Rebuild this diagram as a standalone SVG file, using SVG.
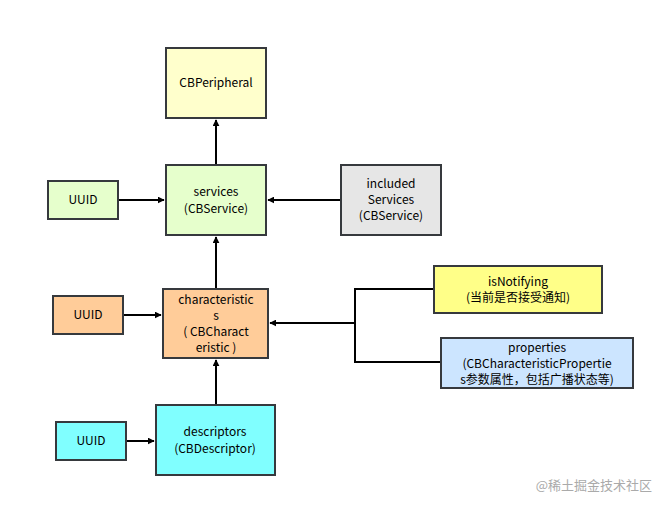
<svg xmlns="http://www.w3.org/2000/svg" width="666" height="509" viewBox="0 0 666 509">
<style>
.n{stroke:#36393d;stroke-width:2}
text{font-family:"Microsoft YaHei","Noto Sans CJK SC","Liberation Sans",sans-serif;font-size:12px;fill:#000;text-anchor:middle}
.c{fill:none;stroke:#000;stroke-width:2}
</style>
<defs><marker id="a" viewBox="0 0 10 10" refX="9" refY="5" markerWidth="7" markerHeight="7" markerUnits="userSpaceOnUse" orient="auto"><path d="M0,0L10,5L0,10z" fill="#000"/></marker></defs>
<rect width="666" height="509" fill="#fff"/>
<g id="connectors">
<path class="c" marker-end="url(#a)" d="M216,165V120"/>
<path class="c" marker-end="url(#a)" d="M216,289V237"/>
<path class="c" marker-end="url(#a)" d="M216,405V360"/>
<path class="c" marker-end="url(#a)" d="M118,200H164"/>
<path class="c" marker-end="url(#a)" d="M341,200H268"/>
<path class="c" marker-end="url(#a)" d="M123,315H161"/>
<path class="c" marker-end="url(#a)" d="M355,323H270"/>
<path class="c" d="M434,289H355V362H441"/>
<path class="c" marker-end="url(#a)" d="M126,441H154"/>
</g>
<g id="peripheral"><rect class="n" x="166" y="48" width="100" height="70" fill="#ffffcc"/><text x="216" y="87">CBPeripheral</text></g>
<g id="services"><rect class="n" x="166" y="165" width="100" height="70" fill="#e6ffcc"/><text x="216" y="196">services</text><text x="216" y="213">(CBService)</text></g>
<g id="included"><rect class="n" x="341" y="165" width="100" height="70" fill="#e6e6e6"/><text x="391" y="188">included</text><text x="391" y="204">Services</text><text x="391" y="220">(CBService)</text></g>
<g id="uuid1"><rect class="n" x="48" y="181" width="70" height="38" fill="#e6ffcc"/><text x="83" y="204">UUID</text></g>
<g id="characteristics"><rect class="n" x="163" y="289" width="105" height="69" fill="#ffcc99"/><text x="216" y="304">characteristic</text><text x="216" y="320">s</text><text x="216" y="336">( CBCharact</text><text x="216" y="352">eristic )</text></g>
<g id="uuid2"><rect class="n" x="53" y="296" width="70" height="38" fill="#ffcc99"/><text x="88" y="319">UUID</text></g>
<g id="isNotifying"><rect class="n" x="434" y="266" width="168" height="47" fill="#ffff88"/><text x="518" y="286">isNotifying</text><text x="518" y="302">(当前是否接受通知)</text></g>
<g id="properties"><rect class="n" x="441" y="338" width="192" height="50" fill="#cce5ff"/><text x="537" y="352">properties</text><text x="537" y="368">(CBCharacteristicPropertie</text><text x="537" y="384">s参数属性，包括广播状态等)</text></g>
<g id="uuid3"><rect class="n" x="56" y="422" width="70" height="38" fill="#80ffff"/><text x="91" y="445">UUID</text></g>
<g id="descriptors"><rect class="n" x="156" y="405" width="119" height="70" fill="#80ffff"/><text x="215" y="436">descriptors</text><text x="215" y="453">(CBDescriptor)</text></g>
<text x="652" y="490" style="text-anchor:end;fill:#aaa;font-size:13px">@稀土掘金技术社区</text>
</svg>
